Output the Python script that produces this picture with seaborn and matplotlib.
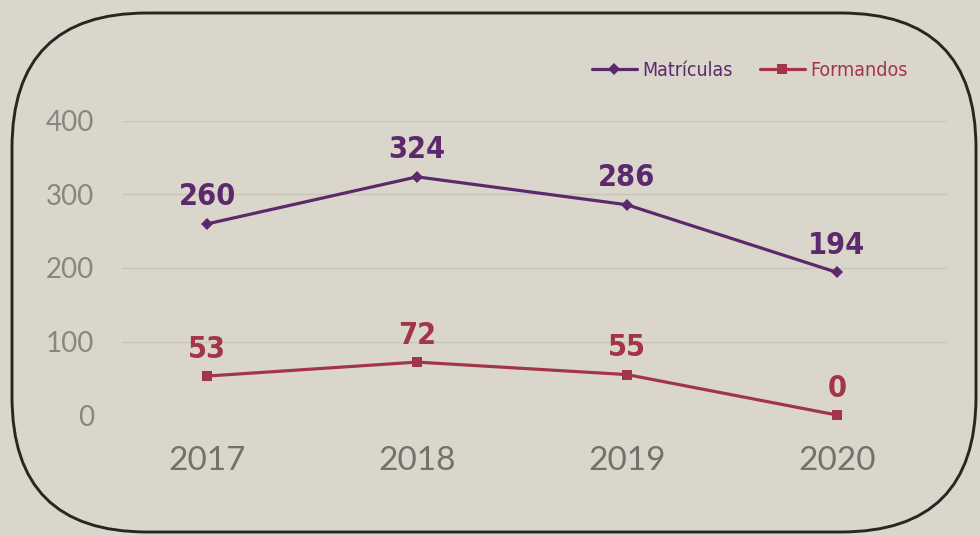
import pandas as pd
import matplotlib.pyplot as plt
import seaborn as sns
from matplotlib import font_manager
from matplotlib.patches import FancyBboxPatch

anos = ['2017', '2018', '2019', '2020']
matriculas = [260, 324, 286, 194]
formandos = [53, 72, 55, 0]

bg = '#dad6cc'
roxo = '#5c2a6c'
vermelho = '#a33646'

sns.set_theme(style='white')

# escolhe fontes estreitas se existirem
fontes = font_manager.fontManager.ttflist
nomes = {f.name for f in fontes}
estreita = {'family': 'DejaVu Sans', 'stretch': 'normal'}
if 'Liberation Sans Narrow' in nomes:
    estreita = {'family': 'Liberation Sans Narrow', 'stretch': 'normal'}
elif any(f.name == 'DejaVu Sans' and f.stretch == 'condensed' for f in fontes):
    estreita = {'family': 'DejaVu Sans', 'stretch': 'condensed'}
fina = 'Lato' if 'Lato' in nomes else 'DejaVu Sans'

plt.rcParams['font.family'] = [estreita['family'], 'DejaVu Sans']
plt.rcParams['font.stretch'] = estreita['stretch']

df = pd.DataFrame({
    'ano': anos * 2,
    'valor': matriculas + formandos,
    'serie': ['Matrículas'] * 4 + ['Formandos'] * 4,
})

fig = plt.figure(figsize=(9.8, 5.36), dpi=100, facecolor=bg)

# moldura arredondada em coordenadas de pixel
bgax = fig.add_axes([0, 0, 1, 1], zorder=0)
bgax.set_xlim(0, 980)
bgax.set_ylim(536, 0)
bgax.axis('off')
bgax.add_patch(FancyBboxPatch((12, 13), 964, 519,
                              boxstyle='round,pad=0,rounding_size=135',
                              fill=False, ec='#2a2520', lw=2.1))

ax = fig.add_axes([122 / 980, 0.2257, 825 / 980, 0.5486], zorder=1)
ax.set_facecolor('none')

sns.lineplot(data=df, x='ano', y='valor', hue='serie', style='serie',
             markers={'Matrículas': 'D', 'Formandos': 's'}, dashes=False,
             palette={'Matrículas': roxo, 'Formandos': vermelho},
             markersize=6.5, linewidth=2.3, markeredgewidth=0, ax=ax,
             clip_on=False)

# rótulos dos valores
for vals, cor in [(matriculas, roxo), (formandos, vermelho)]:
    for i, v in enumerate(vals):
        ax.annotate(str(v), (i, v), xytext=(0, 9), textcoords='offset points',
                    ha='center', va='bottom', fontsize=22, fontweight='bold',
                    color=cor)

ax.set_xlim(-0.405, 3.524)
ax.set_ylim(0, 400)
ax.set_yticks([0, 100, 200, 300, 400])
ax.grid(axis='y', color='#c9c5bb', lw=1)
ax.set_axisbelow(True)
sns.despine(ax=ax, left=True, bottom=True)
ax.tick_params(axis='both', length=0)
ax.tick_params(axis='y', labelsize=20, labelcolor='#8a867f', pad=20)
ax.tick_params(axis='x', labelsize=24, labelcolor='#75716a', pad=22)
for t in ax.get_yticklabels() + ax.get_xticklabels():
    t.set_fontfamily(fina)
    t.set_fontweight('normal')
    t.set_fontstretch('normal')
ax.set_xlabel('')
ax.set_ylabel('')

leg = ax.legend(loc='center', bbox_to_anchor=(750 / 980, 1 - 70 / 536),
                bbox_transform=fig.transFigure, ncol=2, frameon=False,
                fontsize=14, labelcolor='linecolor', handlelength=2.3,
                columnspacing=1.4, handletextpad=0.3)

fig.savefig('out.png', dpi=100, facecolor=bg)
